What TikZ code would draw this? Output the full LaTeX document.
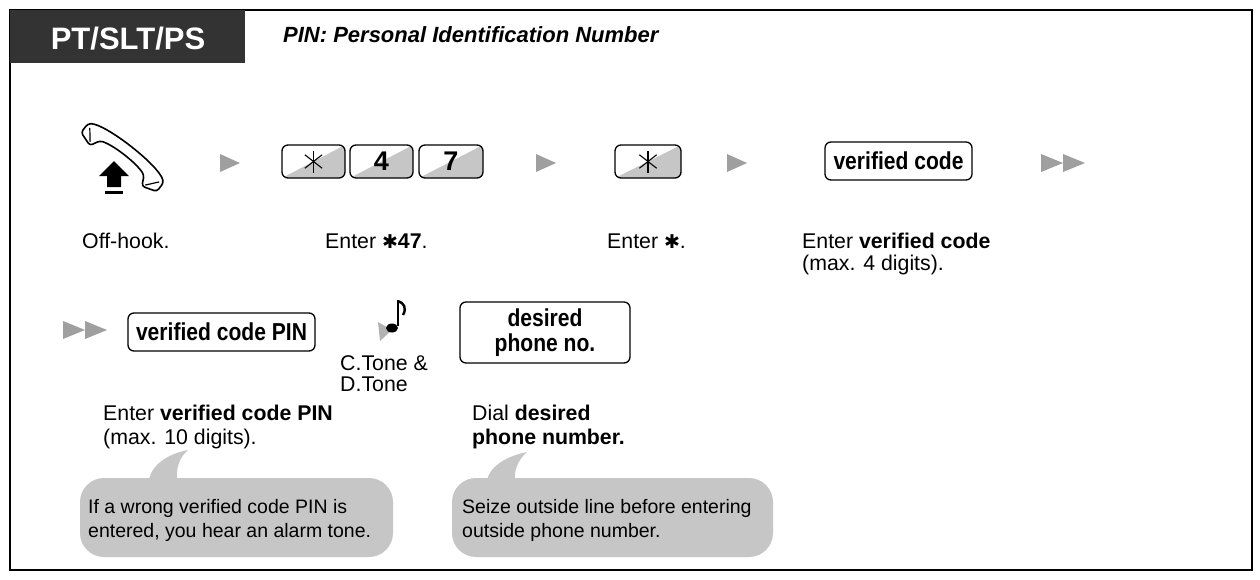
\documentclass[tikz,border=0pt]{standalone}
\usepackage{fontspec}
\usetikzlibrary{calc}
\setmainfont{Liberation Sans}[FakeStretch=0.86]
\newfontfamily\plain{Liberation Sans}
\newfontfamily\sym{DejaVu Sans}
\begin{document}
\begin{tikzpicture}[x=1pt,y=-1pt,
  txt/.style={anchor=base west,font=\plain\fontsize{21.3}{22}\selectfont,inner sep=0},
  btxt/.style={anchor=base west,font=\plain\fontsize{19.5}{22}\selectfont,inner sep=0},
  arr/.style={fill=gray!75,draw=none},
  keybox/.style={draw,line width=1.3pt,rounded corners=6pt,inner sep=2pt},
  lbl/.style={font=\fontsize{24.5}{26}\selectfont\bfseries},
  bubble/.style={fill=gray!45,draw=none}]
\useasboundingbox (0,0) rectangle (1260,579);
\fill[white] (0,0) rectangle (1260,579);
\draw[line width=1.2pt] (10,10) rectangle (1252,570);
\fill[black!80] (10,10) rectangle (245,63);
\node[font=\plain\fontsize{31}{34}\selectfont\bfseries,text=white] (hd) at (128,39) {PT/SLT/PS};
\node[txt,font=\plain\fontsize{22}{24}\selectfont\bfseries\itshape] (tt) at (283,42) {PIN: Personal Identification Number};
% handset
\begin{scope}[shift={(122,158)},rotate=-38]
\draw[line width=1.6pt,fill=white,rounded corners=3pt]
  (-48,5) -- (-48,-6) .. controls (-34,-17) and (34,-17) .. (48,-6) -- (48,5) -- (33,10)
  -- (28,0) .. controls (14,-5) and (-14,-5) .. (-28,0) -- (-33,10) -- cycle;
\draw[line width=1.2pt] (-44,-4) -- (-35,7);
\draw[line width=1.2pt] (44,-4) -- (35,7);
\end{scope}
\fill (99,176) -- (114,161) -- (129,176) -- (121,176) -- (121,187) -- (107,187) -- (107,176) -- cycle;
\fill (105,191) rectangle (123,194);
% arrows
\fill[arr] (220,154) -- (240,163) -- (220,172) -- cycle;
\fill[arr] (536,154) -- (556,163) -- (536,172) -- cycle;
\fill[arr] (727,154) -- (747,163) -- (727,172) -- cycle;
\fill[arr] (1041,154) -- (1063,163) -- (1041,172) -- cycle;
\fill[arr] (1063,154) -- (1085,163) -- (1063,172) -- cycle;
\fill[arr] (63,321) -- (85,330) -- (63,339) -- cycle;
\fill[arr] (85,321) -- (107,330) -- (85,339) -- cycle;
% keys
\foreach \x/\w/\t/\n in {282/63/S/k1,350/63/4/k2,419/64/7/k3,615/66/S/k4}{
  \begin{scope}
  \clip[rounded corners=6pt] (\x,145) rectangle (\x+\w,178);
  \fill[gray!45] (\x,178) -- (\x+\w,145) -- (\x+\w,178) -- cycle;
  \end{scope}
  \node[keybox,minimum width=\w pt,minimum height=33pt,font=\plain\fontsize{27}{28}\selectfont\bfseries] (\n) at (\x+\w/2,161.5) {\if S\t\else\t\fi};
  \if S\t
    \foreach \a in {90,38,-38}{\draw[line width=1.1pt] ($(\n.center)+(\a:11)$) -- ($(\n.center)+(\a+180:11)$);}
  \fi
}
\node[keybox,lbl,minimum width=147pt,minimum height=38pt] (vc) at (898.5,161) {verified code};
% row1 labels
\node[txt] (l1) at (82,248) {Off-hook.};
\node[txt] (l2) at (325,248) {Enter {\sym\bfseries\fontsize{19}{20}\selectfont ✱}\textbf{47}.};
\node[txt] (l3) at (607,248) {Enter {\sym\bfseries\fontsize{19}{20}\selectfont ✱}.};
\node[txt] (l4) at (802,248) {Enter \textbf{verified code}};
\node[txt] (l4b) at (802,270) {(max. 4 digits).};
% row2
\node[keybox,lbl,minimum width=187pt,minimum height=38pt] (vp) at (221.5,332) {verified code PIN};
\node[keybox,minimum width=170pt,minimum height=61pt,align=center,font=\fontsize{24.5}{25}\selectfont\bfseries] (dp) at (545,332.5) {desired\\phone no.};
% note icon
\fill[gray!60] (378,322) -- (392,330) -- (380,341) -- cycle;
\draw[line width=2.4pt] (398,300) -- (398,326);
\fill (392,328) ellipse (6pt and 4.5pt);
\draw[line width=2.4pt] (398,301) .. controls (404,303) and (407,308) .. (403,315);
\node[txt] (ct) at (340,370) {C.Tone \&};
\node[txt] (dt) at (340,391) {D.Tone};
\node[txt] (l5) at (103,420) {Enter \textbf{verified code PIN}};
\node[txt] (l5b) at (103,444) {(max. 10 digits).};
\node[txt] (l6) at (472,420) {Dial \textbf{desired}};
\node[txt] (l6b) at (472,444) {\textbf{phone number.}};
% bubbles
\fill[bubble,rounded corners=24pt] (80,478) rectangle (393,557);
\fill[bubble] (149,480) .. controls (152,464) and (168,454) .. (188,450) .. controls (179,458) and (176,468) .. (177,480) -- cycle;
\fill[bubble,rounded corners=24pt] (452,478) rectangle (773,557);
\fill[bubble] (487,480) .. controls (490,466) and (507,456) .. (527,452) .. controls (518,460) and (514,470) .. (515,480) -- cycle;
\node[btxt] (b1) at (88,513) {If a wrong verified code PIN is};
\node[btxt] (b1b) at (88,537) {entered, you hear an alarm tone.};
\node[btxt] (b2) at (462,513) {Seize outside line before entering};
\node[btxt] (b2b) at (462,537) {outside phone number.};
\end{tikzpicture}
\end{document}
